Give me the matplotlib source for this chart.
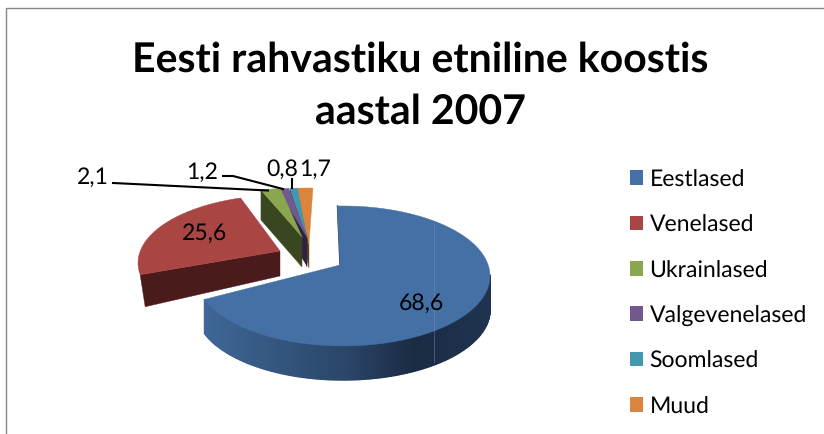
import numpy as np
import matplotlib
matplotlib.use('Agg')
import matplotlib.pyplot as plt
from matplotlib.colors import LinearSegmentedColormap
from matplotlib.patches import Patch, Polygon

# data
labels = ['Eestlased', 'Venelased', 'Ukrainlased', 'Valgevenelased', 'Soomlased', 'Muud']
values = [68.6, 25.6, 2.1, 1.2, 0.8, 1.7]
title = 'Eesti rahvastiku etniline koostis\naastal 2007'

# style
top_colors = ['#4470a5', '#a94543', '#8aa64f', '#71588f', '#4298af', '#db843d']
side_colors = ['#2b4669', '#4a1b1a', '#39461f', '#2f2440', '#1d4a5a', '#6e3f14']
# apex x, apex y, ellipse centre x, centre y, rx, ry, angle shift, angle scale, depth, rim foot dx
geom = [
    (340, 266, 343, 277, 147, 70, 0.6, 1.0235, 34, 0),
    (280, 252, 283, 264, 145, 68, 8.5, 0.90, 30, 5),
    (302, 238, 302, 240, 150, 51, 5, 1.0, 30, 0),
    (307, 238, 307, 240, 150, 51, 2, 1.0, 29, 0),
    (307, 240, 307, 240, 150, 51, 2.5, 1.0, 28, 0),
    (309, 245, 309, 240, 150, 51, 1.5, 1.0, 24, 0),
]
FONT = 'Lato'
plt.rcParams['text.hinting'] = 'no_hinting'
plt.rcParams['text.hinting_factor'] = 1

edges = np.concatenate([[0], np.cumsum(values)]) / np.sum(values) * 360
z_order = {1: 1, 5: 2, 4: 3, 3: 4, 2: 5, 0: 7}


def rim(i, n=90):
    ax_, ay, cx, cy, rx, ry, shift, scale, depth, foot = geom[i]
    mid = (edges[i] + edges[i + 1]) / 2
    th = np.linspace(edges[i], edges[i + 1], n)
    phi = np.radians(mid + shift + scale * (th - mid))
    return cx + rx * np.sin(phi), cy - ry * np.cos(phi)


def draw_slice(ax, i):
    ax_, ay, cx, cy, rx, ry, shift, scale, depth, foot = geom[i]
    x, y = rim(i)
    # cut side, from the rim end that faces the viewer down to the apex
    ax.add_patch(Polygon([(x[0], y[0]), (ax_, ay), (ax_, ay + depth - foot), (x[0] + foot, y[0] + depth + foot * 0.4)],
                         closed=True, fc=side_colors[i], ec=side_colors[i], lw=0.3, zorder=z_order[i]))
    ax.add_patch(Polygon(np.column_stack([np.r_[ax_, x], np.r_[ay, y]]), closed=True,
                         fc=top_colors[i], ec=top_colors[i], lw=0.3, zorder=z_order[i] + 0.5))


fig = plt.figure(figsize=(8.24, 4.35), dpi=100)
ax = fig.add_axes([0, 0, 1, 1])
ax.set_xlim(0, 824)
ax.set_ylim(435, 0)
ax.axis('off')

# chart frame
ax.plot([6.5, 6.5, 824], [435, 8.5, 8.5], color='#868686', lw=1)

for i in range(1, 6):
    draw_slice(ax, i)

# blue slice: shaded outer wall
side_cmap = LinearSegmentedColormap.from_list(
    'wall', [(0, '#3f6797'), (0.5, '#2a4668'), (0.74, '#1a2b44'), (1, '#20344f')])
x, y = rim(0, 300)
d = geom[0][8]
for j in range(len(x) - 1):
    if y[j] < 275 and x[j] > 300:
        continue
    c = side_cmap((x[j] - 203) / 287)
    ax.add_patch(Polygon([(x[j], y[j]), (x[j + 1], y[j + 1]), (x[j + 1], y[j + 1] + d), (x[j], y[j] + d)],
                         closed=True, fc=c, ec=c, lw=1.0, zorder=6))
ax.add_patch(Polygon(np.column_stack([np.r_[geom[0][0], x], np.r_[geom[0][1], y]]), closed=True,
                     fc=top_colors[0], ec=top_colors[0], lw=0.3, zorder=7))
ax.plot([337.5, 340], [207, 266], color='#22395a', lw=1, zorder=6.5)
ax.plot([434, 434], [224, 363], color='#7f9cc0', lw=0.6, alpha=0.45, zorder=8)

# leader lines
ax.plot([113, 268], [184, 191.5], color='black', lw=1.5, zorder=9)
ax.plot([223, 233, 283], [177, 177, 190], color='black', lw=1.5, zorder=9)
ax.plot([292, 292], [180, 189], color='black', lw=1.5, zorder=9)

# value labels
label_xy = [(421, 303), (205, 233), (93, 177), (202, 172), (282, 169), (315, 169)]
for v, (lx, ly) in zip(values, label_xy):
    ax.text(lx, ly, f'{v:.1f}'.replace('.', ','), ha='center', va='center',
            fontsize=16.7, family=FONT, color='black', zorder=10)

ax.text(420, 86, title, ha='center', va='center', fontsize=29.8, fontweight='bold',
        family=FONT, color='black', linespacing=1.5)

handles = [Patch(fc=c, ec='none') for c in top_colors]
ax.legend(handles, labels, loc='upper left', bbox_to_anchor=(629.5 / 824, 1 - 170 / 435),
          frameon=False, prop={'family': FONT, 'size': 16.7}, handlelength=0.6, handleheight=0.6,
          handletextpad=0.26, labelspacing=1.05, borderpad=0, borderaxespad=0)

fig.savefig('out.png', dpi=100)
